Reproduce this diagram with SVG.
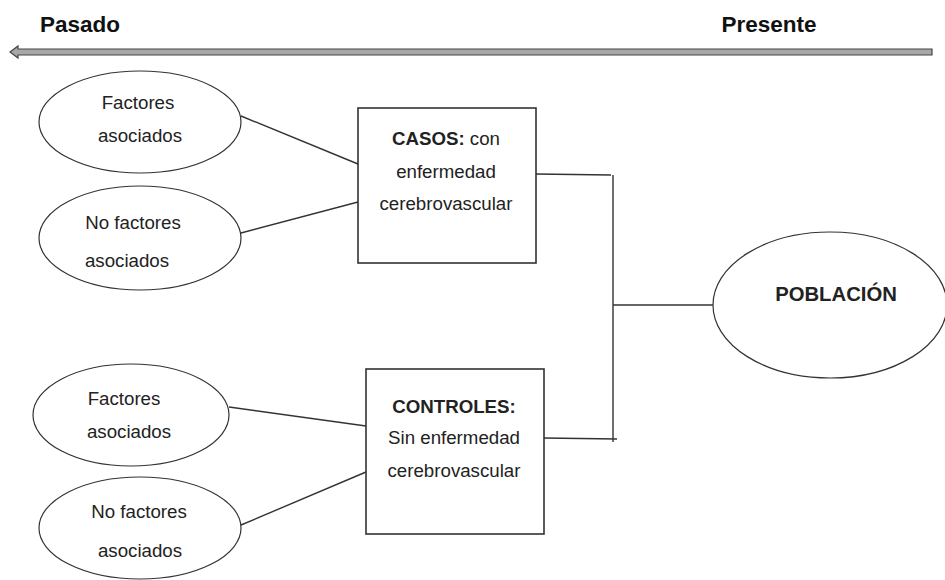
<svg xmlns="http://www.w3.org/2000/svg" width="945" height="580" viewBox="0 0 945 580">
<style>
.t{font-family:"Liberation Sans",Arial,sans-serif;font-size:18.7px;fill:#222;text-anchor:middle}
.b{font-weight:bold}
.h{font-family:"Liberation Sans",Arial,sans-serif;font-size:22.5px;font-weight:bold;fill:#111;text-anchor:middle}
.el{fill:#fff;stroke:#333;stroke-width:1.2}
.bx{fill:#fff;stroke:#333;stroke-width:1.6}
.c{stroke:#333;stroke-width:1.4;fill:none}
</style>
<rect width="945" height="580" fill="#fff"/>
<g id="timeline">
<text class="h" x="80" y="32">Pasado</text>
<text class="h" x="769" y="32">Presente</text>
<path d="M932,49 L18,49 L18,46 L10,52 L18,58 L18,55 L932,55 Z" fill="#a8a8a8" stroke="#444" stroke-width="1.2"/>
</g>
<g id="connectors">
<line class="c" x1="241" y1="116" x2="358" y2="164"/>
<line class="c" x1="241" y1="233" x2="358" y2="202"/>
<line class="c" x1="229" y1="407" x2="366" y2="426"/>
<line class="c" x1="241" y1="525" x2="366" y2="472"/>
<polyline class="c" points="536,174 611,175"/>
<line class="c" x1="613" y1="175" x2="613" y2="442"/>
<polyline class="c" points="544,438 617,439"/>
<line class="c" x1="613" y1="305" x2="713" y2="305"/>
</g>
<g id="fa1">
<ellipse class="el" cx="140" cy="122" rx="101" ry="51"/>
<text class="t" x="138" y="109">Factores</text>
<text class="t" x="140" y="142">asociados</text>
</g>
<g id="nfa1">
<ellipse class="el" cx="140" cy="238" rx="101" ry="52"/>
<text class="t" x="133" y="229">No factores</text>
<text class="t" x="127" y="267">asociados</text>
</g>
<g id="casos">
<rect class="bx" x="358" y="108" width="178" height="155"/>
<text class="t" x="446" y="145"><tspan class="b">CASOS:</tspan> con</text>
<text class="t" x="446" y="178">enfermedad</text>
<text class="t" x="446" y="210">cerebrovascular</text>
</g>
<g id="fa2">
<ellipse class="el" cx="131" cy="415" rx="98" ry="51"/>
<text class="t" x="124" y="405">Factores</text>
<text class="t" x="129" y="438">asociados</text>
</g>
<g id="nfa2">
<ellipse class="el" cx="140" cy="528" rx="101" ry="51"/>
<text class="t" x="139" y="518">No factores</text>
<text class="t" x="140" y="557">asociados</text>
</g>
<g id="controles">
<rect class="bx" x="366" y="369" width="178" height="165"/>
<text class="t b" x="454" y="413">CONTROLES:</text>
<text class="t" x="454" y="444">Sin enfermedad</text>
<text class="t" x="454" y="477">cerebrovascular</text>
</g>
<g id="poblacion">
<ellipse class="el" cx="830" cy="305" rx="117" ry="73"/>
<text class="t b" x="836" y="301" style="font-size:20.3px">POBLACIÓN</text>
</g>
</svg>
